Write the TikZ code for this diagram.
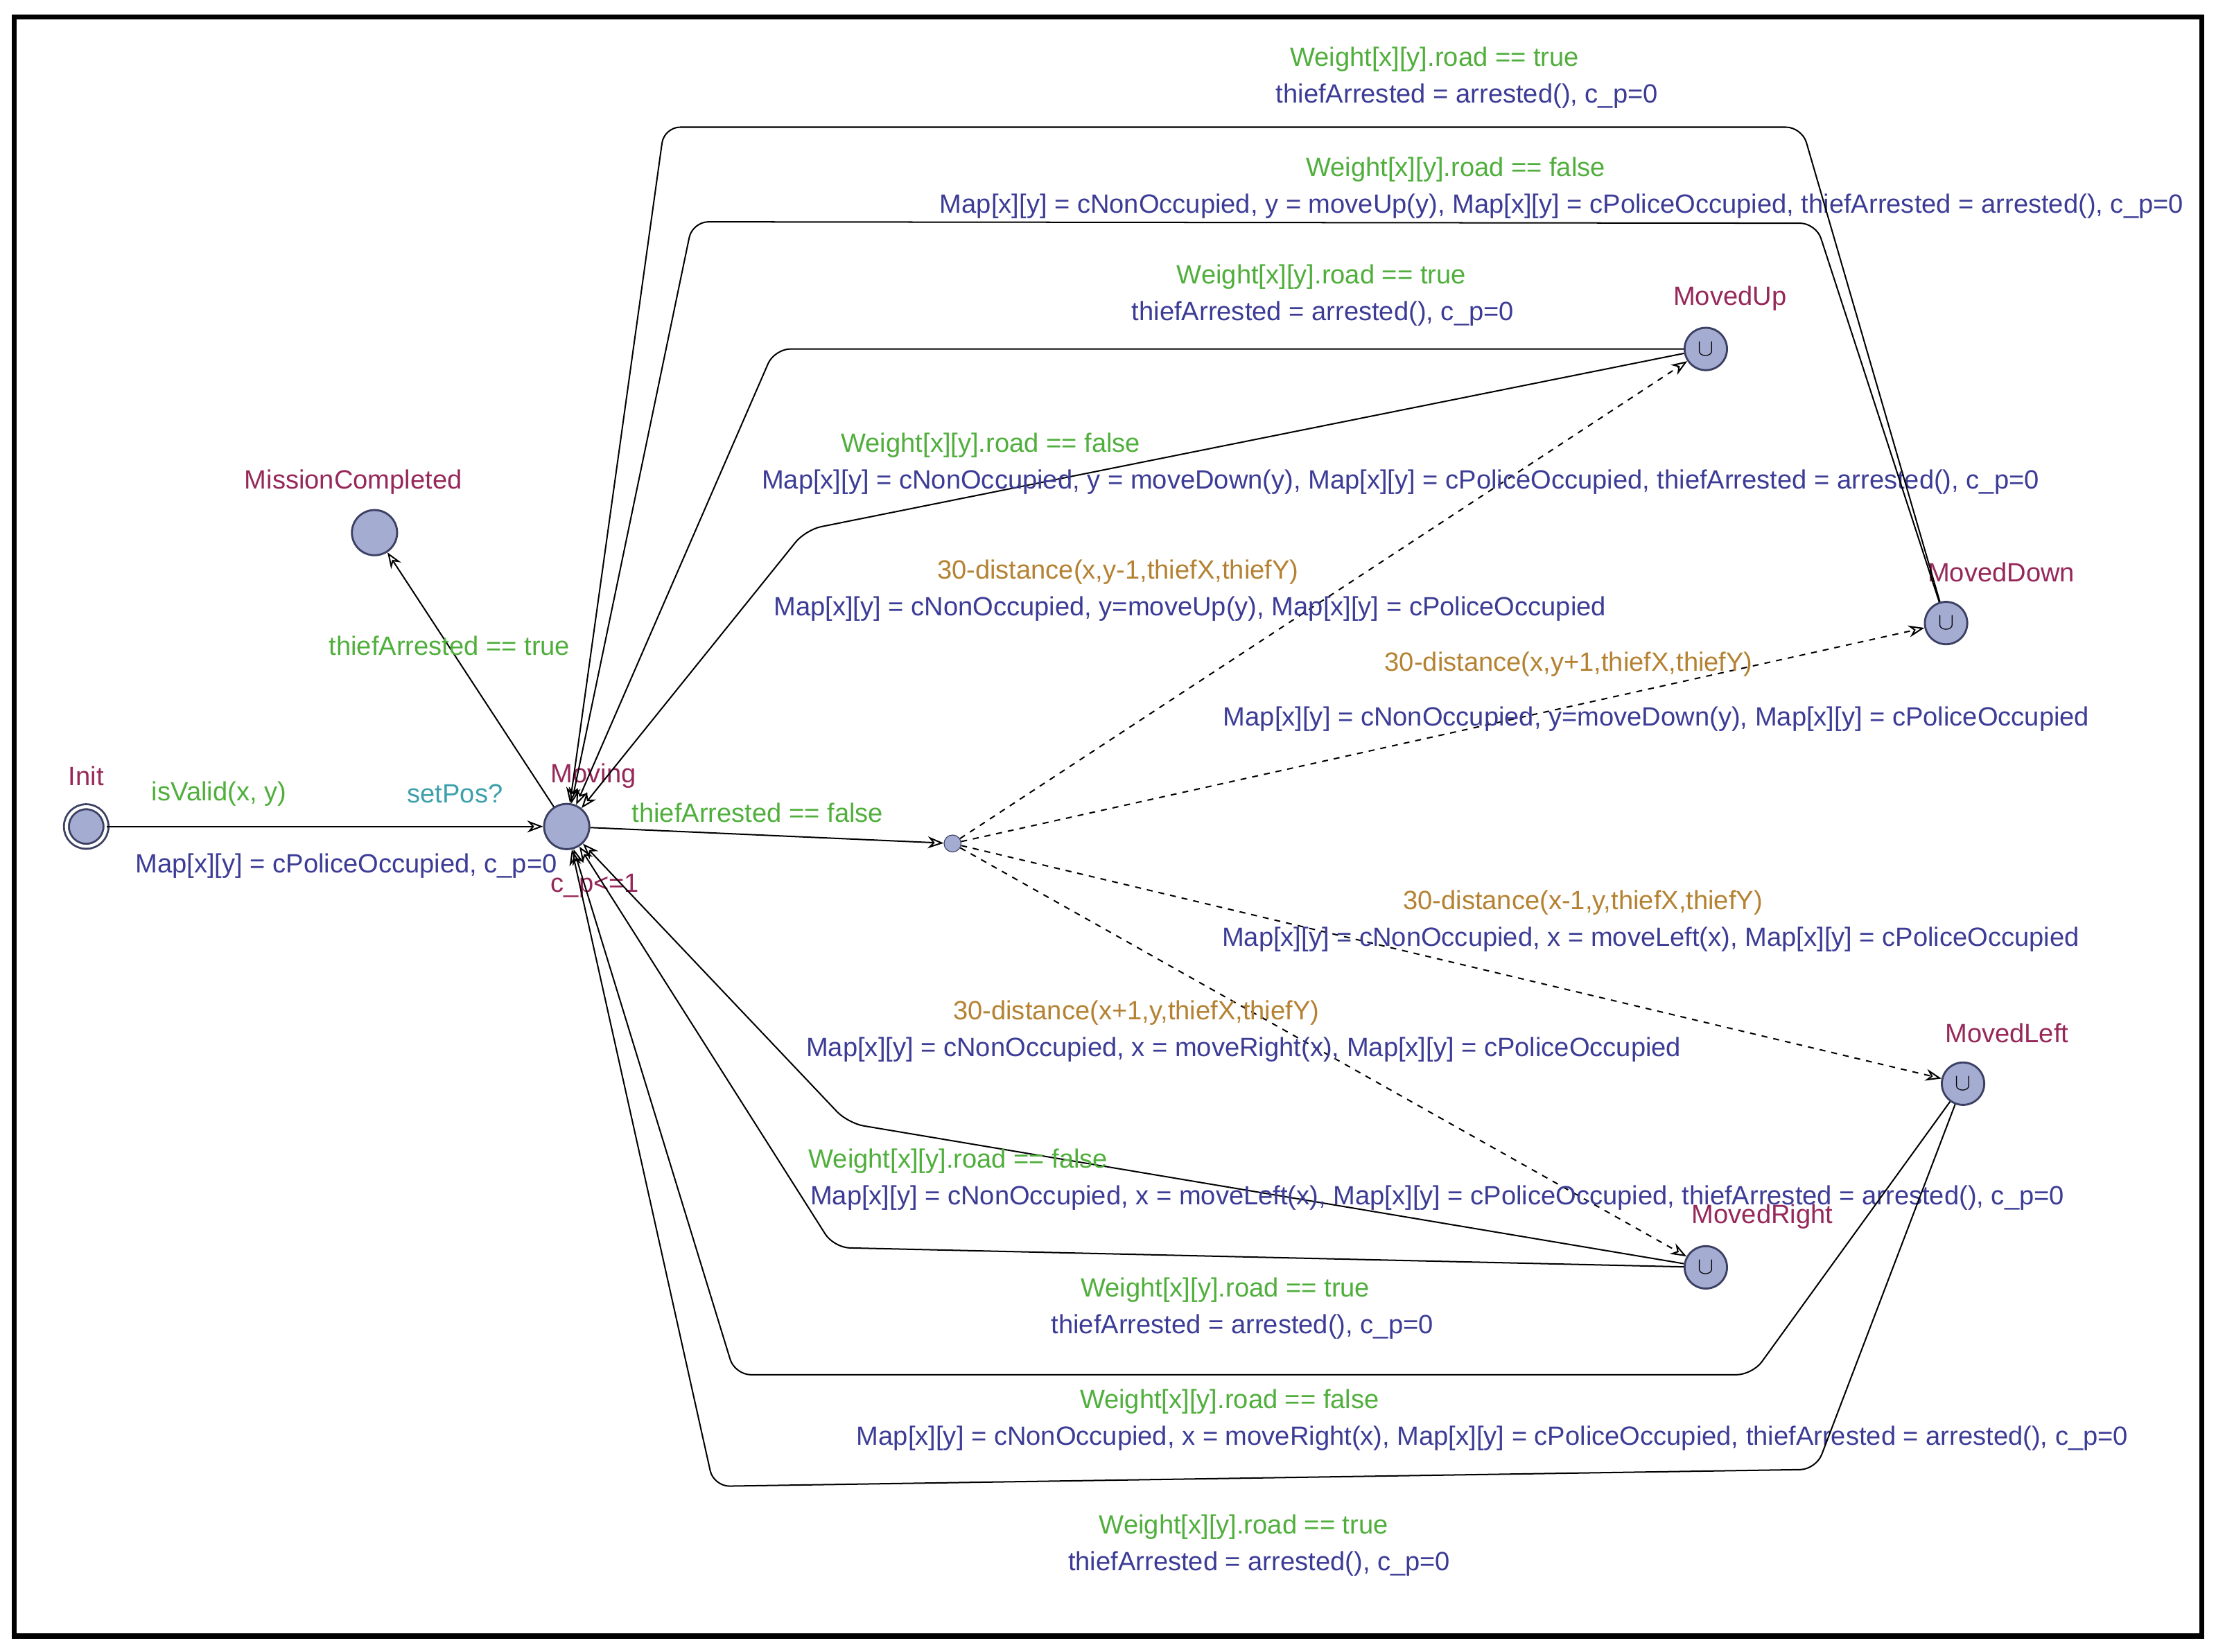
\documentclass[tikz,border=0pt]{standalone}
\usepackage{fontspec}
\setmainfont{Liberation Sans}
\usetikzlibrary{arrows.meta}
\definecolor{cg}{RGB}{80,175,60}
\definecolor{cb}{RGB}{60,60,150}
\definecolor{cp}{RGB}{150,40,90}
\definecolor{ct}{RGB}{60,160,170}
\definecolor{co}{RGB}{180,130,50}
\definecolor{nf}{RGB}{165,172,210}
\definecolor{nd}{RGB}{60,65,100}
\begin{document}
\begin{tikzpicture}[x=0.025cm,y=-0.025cm,
  every node/.style={font=\fontsize{13.3}{15}\selectfont},
  st/.style={circle,draw=nd,fill=nf,line width=1pt,minimum size=0.8cm,inner sep=0pt},
  ust/.style={st,minimum size=0.75cm,font=\fontsize{12}{12}\selectfont\bfseries},
  br/.style={circle,draw=nd,fill=nf,minimum size=0.3cm,inner sep=0pt},
  e/.style={-{Stealth[length=8pt,width=6pt,open]},line width=0.7pt,rounded corners=8pt},
  d/.style={e,dashed},
  g/.style={text=cg,inner sep=1pt},
  b/.style={text=cb,inner sep=1pt},
  p/.style={text=cp,inner sep=1pt},
  o/.style={text=co,inner sep=1pt}]
\fill[white] (0,0) rectangle (1568,1169);
\draw[line width=2.5pt] (10,12) rectangle (1558,1158);
% states
\node[st,double,double distance=1.5pt,minimum size=0.7cm] (init) at (61,585) {};
\node[st] (mov) at (401,585) {};
\node[st] (mc) at (265,377) {};
\node[br] (bp) at (674,597) {};
\node[ust] (up) at (1207,247) {$\cup$};
\node[ust] (down) at (1377,441) {$\cup$};
\node[ust] (left) at (1389,767) {$\cup$};
\node[ust] (right) at (1207,897) {$\cup$};
% state names
\node[p] at (61,549) {Init};
\node[p] at (420,549) {Moving};
\node[p] at (250,341) {MissionCompleted};
\node[p] at (1224,211) {MovedUp};
\node[p] at (1416,405) {MovedDown};
\node[p] at (1420,731) {MovedLeft};
\node[p] at (1247,861) {MovedRight};
\node[p] at (421,627) {c\_p<=1};
% edges
\draw[e] (init) -- (mov);
\node[g] at (155,562) {isValid(x, y)};
\node[text=ct] at (322,562) {setPos?};
\node[b] at (245,613) {Map[x][y] = cPoliceOccupied, c\_p=0};
\draw[e] (mov) -- (mc);
\node[g] at (318,457) {thiefArrested == true};
\draw[e] (mov) -- (bp);
\node[g] at (536,575) {thiefArrested == false};
\draw[d] (bp) -- (up);
\node[o] at (791,405) {30-distance(x,y-1,thiefX,thiefY)};
\node[b] at (842,431) {Map[x][y] = cNonOccupied, y=moveUp(y), Map[x][y] = cPoliceOccupied};
\draw[d] (bp) -- (down);
\node[o] at (1110,470) {30-distance(x,y+1,thiefX,thiefY)};
\node[b] at (1172,509) {Map[x][y] = cNonOccupied, y=moveDown(y), Map[x][y] = cPoliceOccupied};
\draw[d] (bp) -- (left);
\node[o] at (1120,639) {30-distance(x-1,y,thiefX,thiefY)};
\node[b] at (1168,665) {Map[x][y] = cNonOccupied, x = moveLeft(x), Map[x][y] = cPoliceOccupied};
\draw[d] (bp) -- (right);
\node[o] at (804,717) {30-distance(x+1,y,thiefX,thiefY)};
\node[b] at (880,743) {Map[x][y] = cNonOccupied, x = moveRight(x), Map[x][y] = cPoliceOccupied};
% returns
\draw[e] (up) -- (548,247) -- (mov);
\node[g] at (935,196) {Weight[x][y].road == true};
\node[b] at (936,222) {thiefArrested = arrested(), c\_p=0};
\draw[e] (up) -- (570,375) -- (mov);
\node[g] at (701,315) {Weight[x][y].road == false};
\node[b] at (991,341) {Map[x][y] = cNonOccupied, y = moveDown(y), Map[x][y] = cPoliceOccupied, thiefArrested = arrested(), c\_p=0};
\draw[e] (down) -- (1285,158) -- (490,157) -- (mov);
\node[g] at (1030,120) {Weight[x][y].road == false};
\node[b] at (1105,146) {Map[x][y] = cNonOccupied, y = moveUp(y), Map[x][y] = cPoliceOccupied, thiefArrested = arrested(), c\_p=0};
\draw[e] (down) -- (1275,90) -- (470,90) -- (mov);
\node[g] at (1015,42) {Weight[x][y].road == true};
\node[b] at (1038,68) {thiefArrested = arrested(), c\_p=0};
\draw[e] (right) -- (590,883) -- (mov);
\node[g] at (867,913) {Weight[x][y].road == true};
\node[b] at (879,939) {thiefArrested = arrested(), c\_p=0};
\draw[e] (right) -- (600,795) -- (mov);
\node[g] at (678,822) {Weight[x][y].road == false};
\node[b] at (1017,848) {Map[x][y] = cNonOccupied, x = moveLeft(x), Map[x][y] = cPoliceOccupied, thiefArrested = arrested(), c\_p=0};
\draw[e] (left) -- (1240,973) -- (520,973) -- (mov);
\node[g] at (870,992) {Weight[x][y].road == false};
\node[b] at (1056,1018) {Map[x][y] = cNonOccupied, x = moveRight(x), Map[x][y] = cPoliceOccupied, thiefArrested = arrested(), c\_p=0};
\draw[e] (left) -- (1285,1040) -- (505,1052) -- (mov);
\node[g] at (880,1081) {Weight[x][y].road == true};
\node[b] at (891,1107) {thiefArrested = arrested(), c\_p=0};
\end{tikzpicture}
\end{document}
